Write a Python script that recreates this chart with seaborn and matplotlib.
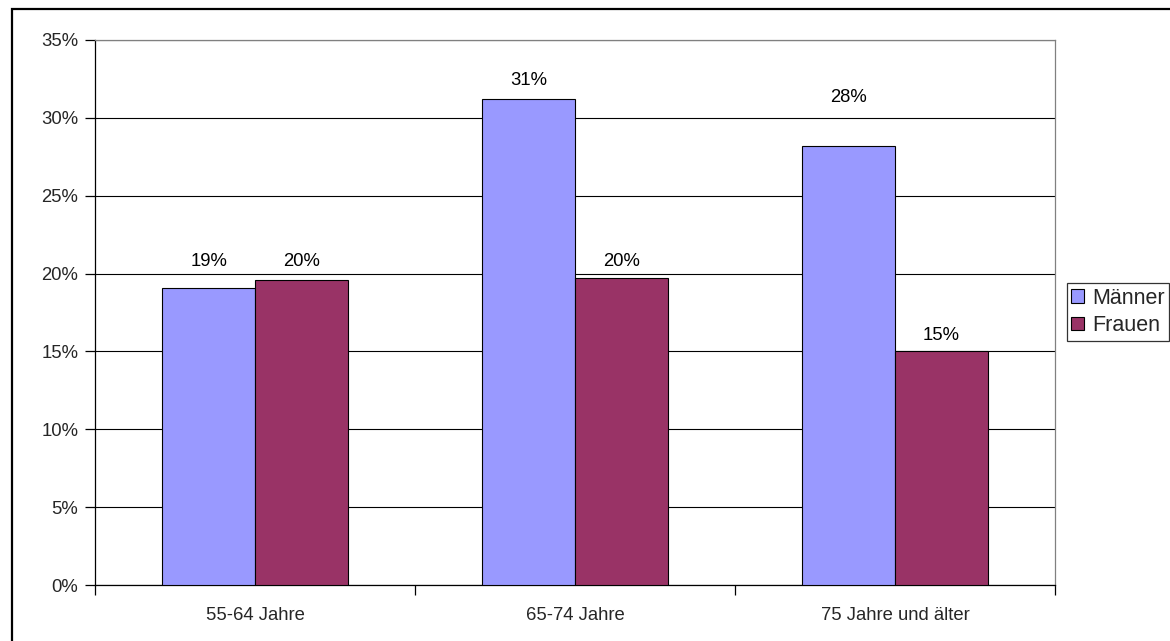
import numpy as np
import pandas as pd
import matplotlib
matplotlib.use("Agg")
import matplotlib.pyplot as plt
import seaborn as sns
from matplotlib.ticker import PercentFormatter, FixedLocator
from matplotlib.patches import Rectangle

# ---- data ----
categories = ["55-64 Jahre", "65-74 Jahre", "75 Jahre und älter"]
series_names = ["Männer", "Frauen"]
maenner = [19.1, 31.2, 28.2]
frauen = [19.6, 19.7, 15.0]
value_labels_m = ["19%", "31%", "28%"]
value_labels_f = ["20%", "20%", "15%"]
y_ticks = [0, 5, 10, 15, 20, 25, 30, 35]

colors = ["#9999FF", "#993366"]

df = pd.DataFrame({
    "Gruppe": categories * 2,
    "Wert": maenner + frauen,
    "Geschlecht": [series_names[0]] * 3 + [series_names[1]] * 3,
})

sns.set_theme(style="white")
plt.rcParams["font.family"] = ["Liberation Sans", "DejaVu Sans"]
FS = 13.3
W, H = 1170, 641

fig = plt.figure(figsize=(11.7, 6.41), dpi=100)
ax = fig.add_axes([95 / W, 56 / H, 960 / W, 545 / H])

# outer chart-area frame (starts inset at top-left, runs off right/bottom)
fig.patches.append(Rectangle((11.5 / W, -0.1), 1.2, 1.1 - 9 / H,
                             transform=fig.transFigure, fill=False,
                             edgecolor="black", linewidth=1.6, zorder=10))

sns.barplot(data=df, x="Gruppe", y="Wert", hue="Geschlecht", palette=colors,
            saturation=1, width=0.58, edgecolor="black", linewidth=0.8,
            ax=ax, zorder=3, legend=True)

ax.set_xlim(-0.5, 2.5)
ax.set_ylim(0, 35)
ax.yaxis.set_major_locator(FixedLocator(y_ticks))
ax.yaxis.set_major_formatter(PercentFormatter(decimals=0))
ax.grid(axis="y", color="black", linewidth=0.8, zorder=0)
ax.set_axisbelow(True)
ax.set_xlabel("")
ax.set_ylabel("")

for side in ["left", "bottom"]:
    ax.spines[side].set_color("black")
    ax.spines[side].set_linewidth(0.9)
for side in ["top", "right"]:
    ax.spines[side].set_color("#808080")
    ax.spines[side].set_linewidth(0.9)

ax.tick_params(axis="y", which="major", direction="out", length=7, width=0.9,
               color="black", labelsize=FS, left=True, pad=5)
ax.tick_params(axis="x", which="major", length=0, labelsize=FS, pad=16)
# category boundary ticks on x-axis
ax.set_xticks([-0.5, 0.5, 1.5, 2.5], minor=True)
ax.tick_params(axis="x", which="minor", direction="out", length=7, width=0.9,
               color="black", bottom=True)

# value labels (positions chosen to mimic original layout)
label_y_m = [20.75, 32.4, 31.3]
label_y_f = [20.75, 20.75, 16.05]
bars_m = ax.containers[0]
bars_f = ax.containers[1]
for bar, txt, ly in zip(bars_m, value_labels_m, label_y_m):
    ax.text(bar.get_x() + bar.get_width() / 2, ly, txt, ha="center",
            va="center", fontsize=FS, color="black")
for bar, txt, ly in zip(bars_f, value_labels_f, label_y_f):
    ax.text(bar.get_x() + bar.get_width() / 2, ly, txt, ha="center",
            va="center", fontsize=FS, color="black")

leg = ax.get_legend()
handles, labels = ax.get_legend_handles_labels()
leg.remove()
leg = fig.legend(handles, labels, loc="center left",
                 bbox_to_anchor=(1067 / W, 1 - 312 / H),
                 frameon=True, fancybox=False, edgecolor="black",
                 fontsize=15.5, handlelength=0.6, handleheight=0.6,
                 handletextpad=0.35, borderpad=0.2, labelspacing=0.3,
                 borderaxespad=0)
leg.get_frame().set_linewidth(0.9)
for h in leg.legend_handles:
    h.set_edgecolor("black")
    h.set_linewidth(0.8)

fig.savefig("out.png", dpi=100)
